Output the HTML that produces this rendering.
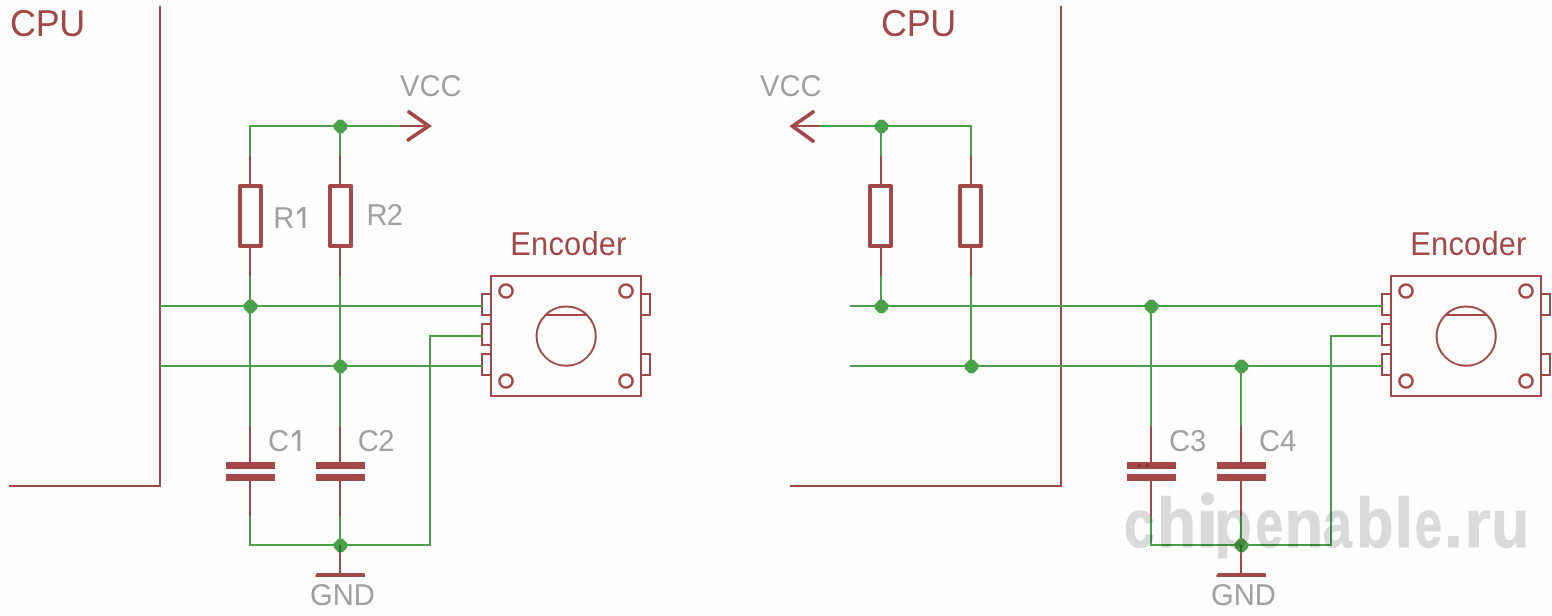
<!DOCTYPE html>
<html><head><meta charset="utf-8"><style>
html,body{margin:0;padding:0;background:#fff;width:1552px;height:616px;overflow:hidden}
svg{display:block;font-family:"Liberation Sans",sans-serif;text-rendering:geometricPrecision}
</style></head><body>
<svg width="1552" height="616" viewBox="0 0 1552 616">
<rect width="1552" height="616" fill="#fefefe"/>
<text transform="translate(10 36) scale(0.955 1)" x="0" y="0" fill="#a34747" font-size="37.6" letter-spacing="-0.3">CPU</text>
<line x1="160" y1="6" x2="160" y2="487" stroke="#a34747" stroke-width="2" stroke-linecap="butt"/>
<line x1="9" y1="486" x2="161" y2="486" stroke="#a34747" stroke-width="2" stroke-linecap="butt"/>
<line x1="400" y1="126" x2="428" y2="126" stroke="#a34747" stroke-width="2" stroke-linecap="butt"/>
<polyline points="409,112 428.7,126 408.3,139.8" fill="none" stroke="#a34747" stroke-width="3.8" stroke-linecap="round" stroke-linejoin="miter"/>
<text transform="translate(400 96) scale(0.965 1)" x="0" y="0" fill="#a0a0a0" font-size="30.2" letter-spacing="0">VCC</text>
<line x1="250" y1="156" x2="250" y2="186" stroke="#a34747" stroke-width="2" stroke-linecap="butt"/>
<line x1="250" y1="246" x2="250" y2="276" stroke="#a34747" stroke-width="2" stroke-linecap="butt"/>
<rect x="240" y="186" width="21" height="60" fill="none" stroke="#a34747" stroke-width="4" stroke-linejoin="round"/>
<line x1="340" y1="156" x2="340" y2="186" stroke="#a34747" stroke-width="2" stroke-linecap="butt"/>
<line x1="340" y1="246" x2="340" y2="276" stroke="#a34747" stroke-width="2" stroke-linecap="butt"/>
<rect x="330" y="186" width="21" height="60" fill="none" stroke="#a34747" stroke-width="4" stroke-linejoin="round"/>
<text transform="translate(273.3 228) scale(0.965 1)" x="0" y="0" fill="#a0a0a0" font-size="30.2" letter-spacing="0">R</text>
<path d="M302.40000000000003,207 H305.3 V228 H302.40000000000003 V210.6 L297.1,215.1 V211.6 Z" fill="#a0a0a0"/>
<text transform="translate(366.5 225) scale(0.965 1)" x="0" y="0" fill="#a0a0a0" font-size="30.2" letter-spacing="-0.9">R2</text>
<line x1="250" y1="426" x2="250" y2="463" stroke="#a34747" stroke-width="2" stroke-linecap="butt"/>
<line x1="250" y1="480" x2="250" y2="516" stroke="#a34747" stroke-width="2" stroke-linecap="butt"/>
<rect x="226" y="462" width="49" height="7" fill="#a34747"/>
<rect x="226" y="474" width="49" height="7" fill="#a34747"/>
<line x1="340" y1="426" x2="340" y2="463" stroke="#a34747" stroke-width="2" stroke-linecap="butt"/>
<line x1="340" y1="480" x2="340" y2="516" stroke="#a34747" stroke-width="2" stroke-linecap="butt"/>
<rect x="316" y="462" width="49" height="7" fill="#a34747"/>
<rect x="316" y="474" width="49" height="7" fill="#a34747"/>
<text transform="translate(268 451) scale(0.965 1)" x="0" y="0" fill="#a0a0a0" font-size="30.2" letter-spacing="0">C</text>
<path d="M297.40000000000003,430 H300.3 V451 H297.40000000000003 V433.6 L292.1,438.1 V434.6 Z" fill="#a0a0a0"/>
<text transform="translate(357.8 451) scale(0.965 1)" x="0" y="0" fill="#a0a0a0" font-size="30.2" letter-spacing="-0.6">C2</text>
<line x1="340" y1="545" x2="340" y2="575" stroke="#a34747" stroke-width="2" stroke-linecap="butt"/>
<polygon points="317,573 364,573 365,574 365,577 316,577 315,576" fill="#a34747"/>
<text transform="translate(310 605) scale(0.965 1)" x="0" y="0" fill="#a0a0a0" font-size="30.2" letter-spacing="0">GND</text>
<rect x="491" y="276" width="150" height="120" fill="none" stroke="#a34747" stroke-width="2"/>
<polyline points="491,294 482,294 482,315 491,315" fill="none" stroke="#a34747" stroke-width="2" stroke-linecap="butt" stroke-linejoin="miter"/>
<polyline points="491,324 482,324 482,345 491,345" fill="none" stroke="#a34747" stroke-width="2" stroke-linecap="butt" stroke-linejoin="miter"/>
<polyline points="491,354 482,354 482,375 491,375" fill="none" stroke="#a34747" stroke-width="2" stroke-linecap="butt" stroke-linejoin="miter"/>
<polyline points="641,294 650,294 650,315 641,315" fill="none" stroke="#a34747" stroke-width="2" stroke-linecap="butt" stroke-linejoin="miter"/>
<polyline points="641,354 650,354 650,375 641,375" fill="none" stroke="#a34747" stroke-width="2" stroke-linecap="butt" stroke-linejoin="miter"/>
<circle cx="506" cy="291" r="6.6" fill="none" stroke="#a34747" stroke-width="2.5"/>
<circle cx="626" cy="291" r="6.6" fill="none" stroke="#a34747" stroke-width="2.5"/>
<circle cx="506" cy="381" r="6.6" fill="none" stroke="#a34747" stroke-width="2.5"/>
<circle cx="626" cy="381" r="6.6" fill="none" stroke="#a34747" stroke-width="2.5"/>
<circle cx="566.2" cy="336.2" r="29.6" fill="none" stroke="#a34747" stroke-width="2"/>
<line x1="546" y1="315" x2="587" y2="315" stroke="#a34747" stroke-width="2" stroke-linecap="butt"/>
<text transform="translate(510.3 255) scale(0.93 1)" x="0" y="0" fill="#a34747" font-size="33.2" letter-spacing="0.2">Encoder</text>
<text transform="translate(881 36) scale(0.955 1)" x="0" y="0" fill="#a34747" font-size="37.6" letter-spacing="-0.3">CPU</text>
<line x1="1061" y1="6" x2="1061" y2="487" stroke="#a34747" stroke-width="2" stroke-linecap="butt"/>
<line x1="790" y1="486" x2="1062" y2="486" stroke="#a34747" stroke-width="2" stroke-linecap="butt"/>
<line x1="792" y1="126" x2="820" y2="126" stroke="#a34747" stroke-width="2" stroke-linecap="butt"/>
<polyline points="813,112 792.6,126.3 813,141" fill="none" stroke="#a34747" stroke-width="3.8" stroke-linecap="round" stroke-linejoin="miter"/>
<text transform="translate(760 96) scale(0.965 1)" x="0" y="0" fill="#a0a0a0" font-size="30.2" letter-spacing="0">VCC</text>
<line x1="881" y1="156" x2="881" y2="186" stroke="#a34747" stroke-width="2" stroke-linecap="butt"/>
<line x1="881" y1="246" x2="881" y2="276" stroke="#a34747" stroke-width="2" stroke-linecap="butt"/>
<rect x="870" y="186" width="21" height="60" fill="none" stroke="#a34747" stroke-width="4" stroke-linejoin="round"/>
<line x1="971" y1="156" x2="971" y2="186" stroke="#a34747" stroke-width="2" stroke-linecap="butt"/>
<line x1="971" y1="246" x2="971" y2="276" stroke="#a34747" stroke-width="2" stroke-linecap="butt"/>
<rect x="960" y="186" width="21" height="60" fill="none" stroke="#a34747" stroke-width="4" stroke-linejoin="round"/>
<line x1="1151" y1="426" x2="1151" y2="463" stroke="#a34747" stroke-width="2" stroke-linecap="butt"/>
<line x1="1151" y1="480" x2="1151" y2="516" stroke="#a34747" stroke-width="2" stroke-linecap="butt"/>
<rect x="1127" y="462" width="49" height="7" fill="#a34747"/>
<rect x="1127" y="474" width="49" height="7" fill="#a34747"/>
<line x1="1241" y1="426" x2="1241" y2="463" stroke="#a34747" stroke-width="2" stroke-linecap="butt"/>
<line x1="1241" y1="480" x2="1241" y2="516" stroke="#a34747" stroke-width="2" stroke-linecap="butt"/>
<rect x="1217" y="462" width="49" height="7" fill="#a34747"/>
<rect x="1217" y="474" width="49" height="7" fill="#a34747"/>
<rect x="1138" y="464" width="3" height="3" fill="#8a3232"/>
<rect x="1146" y="464" width="3" height="3" fill="#8a3232"/>
<text transform="translate(1169 451) scale(0.965 1)" x="0" y="0" fill="#a0a0a0" font-size="30.2" letter-spacing="0">C3</text>
<text transform="translate(1259 451) scale(0.965 1)" x="0" y="0" fill="#a0a0a0" font-size="30.2" letter-spacing="0">C4</text>
<line x1="1241" y1="545" x2="1241" y2="575" stroke="#a34747" stroke-width="2" stroke-linecap="butt"/>
<polygon points="1218,573 1265,573 1266,574 1266,577 1217,577 1216,576" fill="#a34747"/>
<text transform="translate(1211 605) scale(0.965 1)" x="0" y="0" fill="#a0a0a0" font-size="30.2" letter-spacing="0">GND</text>
<rect x="1391" y="276" width="150" height="120" fill="none" stroke="#a34747" stroke-width="2"/>
<polyline points="1391,294 1382,294 1382,315 1391,315" fill="none" stroke="#a34747" stroke-width="2" stroke-linecap="butt" stroke-linejoin="miter"/>
<polyline points="1391,324 1382,324 1382,345 1391,345" fill="none" stroke="#a34747" stroke-width="2" stroke-linecap="butt" stroke-linejoin="miter"/>
<polyline points="1391,354 1382,354 1382,375 1391,375" fill="none" stroke="#a34747" stroke-width="2" stroke-linecap="butt" stroke-linejoin="miter"/>
<polyline points="1541,294 1550,294 1550,315 1541,315" fill="none" stroke="#a34747" stroke-width="2" stroke-linecap="butt" stroke-linejoin="miter"/>
<polyline points="1541,354 1550,354 1550,375 1541,375" fill="none" stroke="#a34747" stroke-width="2" stroke-linecap="butt" stroke-linejoin="miter"/>
<circle cx="1406" cy="291" r="6.6" fill="none" stroke="#a34747" stroke-width="2.5"/>
<circle cx="1526" cy="291" r="6.6" fill="none" stroke="#a34747" stroke-width="2.5"/>
<circle cx="1406" cy="381" r="6.6" fill="none" stroke="#a34747" stroke-width="2.5"/>
<circle cx="1526" cy="381" r="6.6" fill="none" stroke="#a34747" stroke-width="2.5"/>
<circle cx="1466.2" cy="336.2" r="29.6" fill="none" stroke="#a34747" stroke-width="2"/>
<line x1="1446" y1="315" x2="1487" y2="315" stroke="#a34747" stroke-width="2" stroke-linecap="butt"/>
<text transform="translate(1410.3 255) scale(0.93 1)" x="0" y="0" fill="#a34747" font-size="33.2" letter-spacing="0.2">Encoder</text>
<polyline points="250,156 250,126 400,126" fill="none" stroke="#48a048" stroke-width="2" stroke-linecap="butt" stroke-linejoin="miter"/>
<line x1="340" y1="126" x2="340" y2="156" stroke="#48a048" stroke-width="2" stroke-linecap="butt"/>
<line x1="250" y1="276" x2="250" y2="426" stroke="#48a048" stroke-width="2" stroke-linecap="butt"/>
<line x1="340" y1="276" x2="340" y2="426" stroke="#48a048" stroke-width="2" stroke-linecap="butt"/>
<line x1="160" y1="306" x2="482" y2="306" stroke="#48a048" stroke-width="2" stroke-linecap="butt"/>
<line x1="160" y1="366" x2="482" y2="366" stroke="#48a048" stroke-width="2" stroke-linecap="butt"/>
<polyline points="482,336 430,336 430,545 250,545 250,516" fill="none" stroke="#48a048" stroke-width="2" stroke-linecap="butt" stroke-linejoin="miter"/>
<line x1="340" y1="516" x2="340" y2="545" stroke="#48a048" stroke-width="2" stroke-linecap="butt"/>
<polygon points="338.20,119.75 342.80,119.75 347.20,124.15 347.20,128.75 342.80,133.15 338.20,133.15 333.80,128.75 333.80,124.15" fill="#48a048"/>
<polygon points="248.20,299.75 252.80,299.75 257.20,304.15 257.20,308.75 252.80,313.15 248.20,313.15 243.80,308.75 243.80,304.15" fill="#48a048"/>
<polygon points="338.20,359.75 342.80,359.75 347.20,364.15 347.20,368.75 342.80,373.15 338.20,373.15 333.80,368.75 333.80,364.15" fill="#48a048"/>
<polygon points="338.20,538.75 342.80,538.75 347.20,543.15 347.20,547.75 342.80,552.15 338.20,552.15 333.80,547.75 333.80,543.15" fill="#48a048"/>
<polyline points="820,126 971,126 971,156" fill="none" stroke="#48a048" stroke-width="2" stroke-linecap="butt" stroke-linejoin="miter"/>
<line x1="881" y1="126" x2="881" y2="156" stroke="#48a048" stroke-width="2" stroke-linecap="butt"/>
<line x1="881" y1="276" x2="881" y2="306" stroke="#48a048" stroke-width="2" stroke-linecap="butt"/>
<line x1="971" y1="276" x2="971" y2="366" stroke="#48a048" stroke-width="2" stroke-linecap="butt"/>
<line x1="850" y1="306" x2="1382" y2="306" stroke="#48a048" stroke-width="2" stroke-linecap="butt"/>
<line x1="850" y1="366" x2="1382" y2="366" stroke="#48a048" stroke-width="2" stroke-linecap="butt"/>
<polyline points="1382,336 1331,336 1331,545 1151,545 1151,516" fill="none" stroke="#48a048" stroke-width="2" stroke-linecap="butt" stroke-linejoin="miter"/>
<line x1="1151" y1="306" x2="1151" y2="426" stroke="#48a048" stroke-width="2" stroke-linecap="butt"/>
<line x1="1241" y1="366" x2="1241" y2="426" stroke="#48a048" stroke-width="2" stroke-linecap="butt"/>
<line x1="1241" y1="516" x2="1241" y2="545" stroke="#48a048" stroke-width="2" stroke-linecap="butt"/>
<polygon points="879.20,119.75 883.80,119.75 888.20,124.15 888.20,128.75 883.80,133.15 879.20,133.15 874.80,128.75 874.80,124.15" fill="#48a048"/>
<polygon points="879.20,299.75 883.80,299.75 888.20,304.15 888.20,308.75 883.80,313.15 879.20,313.15 874.80,308.75 874.80,304.15" fill="#48a048"/>
<polygon points="969.20,359.75 973.80,359.75 978.20,364.15 978.20,368.75 973.80,373.15 969.20,373.15 964.80,368.75 964.80,364.15" fill="#48a048"/>
<polygon points="1149.20,299.75 1153.80,299.75 1158.20,304.15 1158.20,308.75 1153.80,313.15 1149.20,313.15 1144.80,308.75 1144.80,304.15" fill="#48a048"/>
<polygon points="1239.20,359.75 1243.80,359.75 1248.20,364.15 1248.20,368.75 1243.80,373.15 1239.20,373.15 1234.80,368.75 1234.80,364.15" fill="#48a048"/>
<polygon points="1239.20,538.75 1243.80,538.75 1248.20,543.15 1248.20,547.75 1243.80,552.15 1239.20,552.15 1234.80,547.75 1234.80,543.15" fill="#48a048"/>
<rect x="339" y="545" width="2" height="7" fill="#2f6b26"/>
<rect x="1240" y="545" width="2" height="7" fill="#2f6b26"/>
<defs><clipPath id="wmc"><rect x="1100" y="480" width="452" height="78.5"/></clipPath><filter id="wmb" x="-5%" y="-20%" width="110%" height="140%"><feGaussianBlur stdDeviation="0.55"/></filter></defs>
<g clip-path="url(#wmc)" filter="url(#wmb)" fill="#dbdbdb" stroke="#dbdbdb" stroke-width="1.0" stroke-linejoin="round" font-size="70" font-weight="bold" style="mix-blend-mode:multiply"><text transform="translate(1124.12 547) scale(0.794 0.965)" x="0" y="0">c</text><text transform="translate(1156.94 547) scale(0.912 1.0)" x="0" y="0">h</text><text transform="translate(1195.50 547) scale(1.200 0.965)" x="0" y="0">ı</text><circle cx="1207.50" cy="498.6" r="6.6" stroke="none"/><text transform="translate(1214.07 547) scale(0.886 0.965)" x="0" y="0">p</text><text transform="translate(1255.38 547) scale(0.706 0.965)" x="0" y="0">e</text><text transform="translate(1284.49 547) scale(0.903 0.965)" x="0" y="0">n</text><text transform="translate(1323.02 547) scale(0.741 0.965)" x="0" y="0">a</text><text transform="translate(1356.16 547) scale(0.869 1.0)" x="0" y="0">b</text><text transform="translate(1394.85 547) scale(0.930 1.0)" x="0" y="0">l</text><text transform="translate(1414.80 547) scale(0.700 0.965)" x="0" y="0">e</text><text transform="translate(1444.00 547) scale(0.960 1.0)" x="0" y="0">.</text><text transform="translate(1464.49 547) scale(0.962 0.965)" x="0" y="0">r</text><text transform="translate(1491.25 547) scale(0.888 0.965)" x="0" y="0">u</text></g>
</svg>
</body></html>
